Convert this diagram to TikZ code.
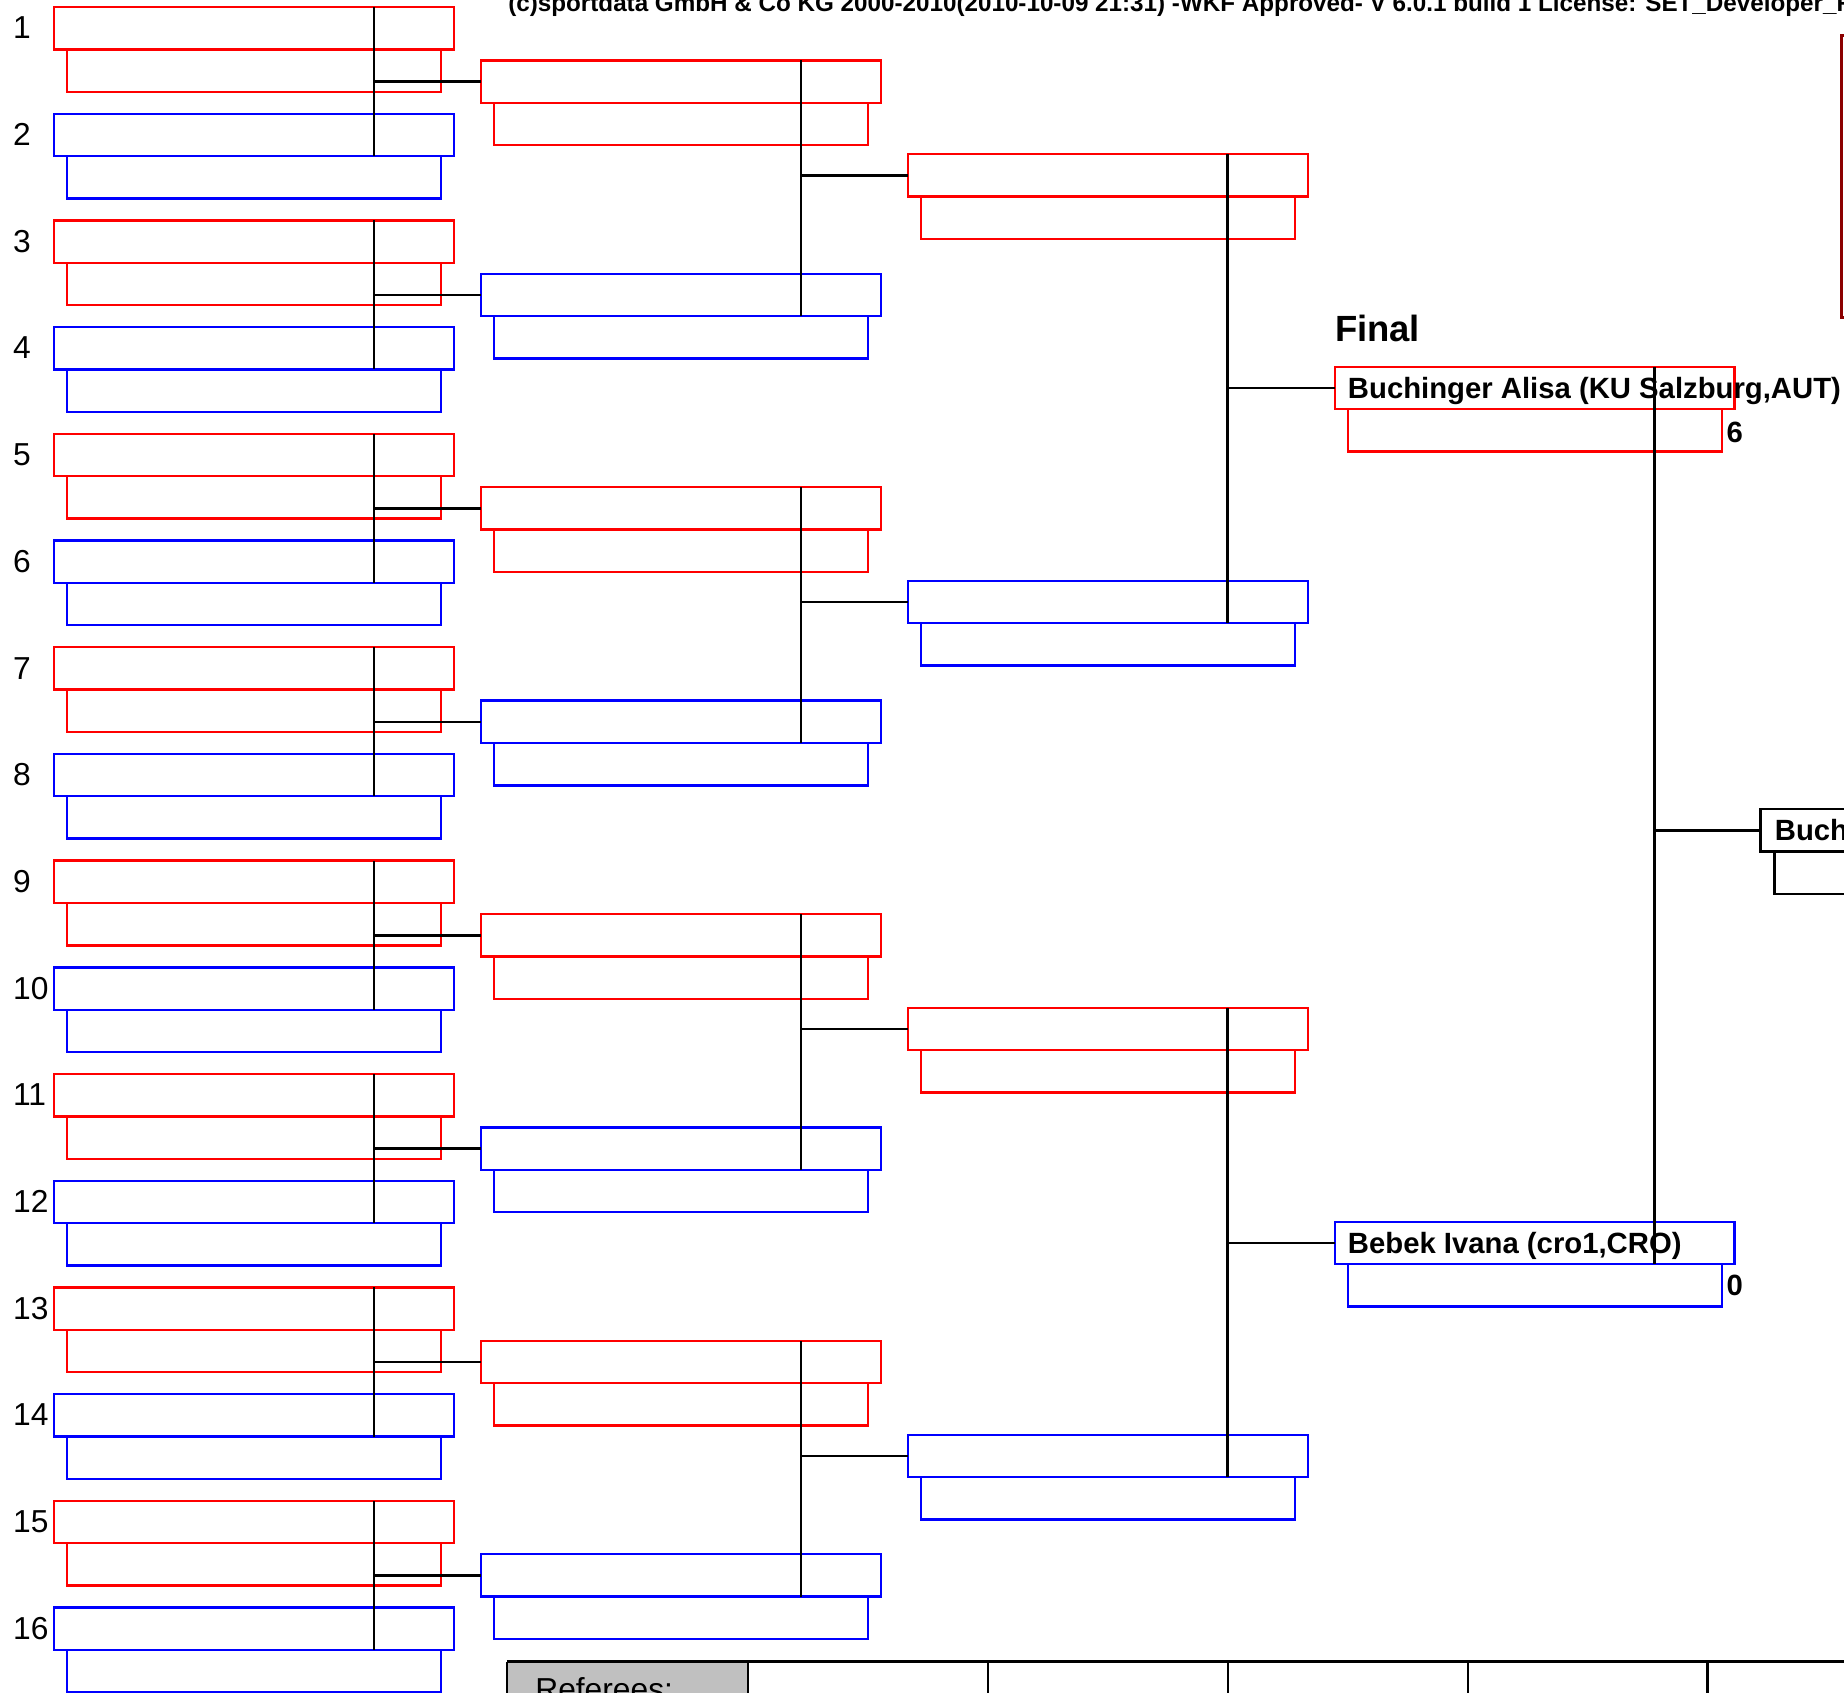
\documentclass[tikz,border=0pt]{standalone}
\usepackage{fontspec}
\setmainfont{Liberation Sans}
\usepackage{tikz}
\definecolor{silver}{HTML}{C0C0C0}
\definecolor{darkred}{HTML}{8B0000}
\colorlet{corner1}{red}
\colorlet{corner0}{blue}
\tikzset{
	slot/.style={draw, rectangle, anchor=north west, inner sep=0pt, outer sep=0pt, minimum width=340pt, minimum height=36pt, line width=2pt},
	subslot/.style={slot, minimum width=318pt},
	wire/.style={line width=2.2pt},
	seed/.style={anchor=base west, inner sep=0pt, font=\fontsize{27}{32}\selectfont},
	fighter/.style={anchor=base west, inner sep=0pt, font=\fontsize{24.9}{30}\bfseries\selectfont}
}

\begin{document}
\begin{tikzpicture}[x=1pt,y=-1pt]
					\useasboundingbox (0,0) rectangle (1568,1439);
					\clip (0,0) rectangle (1568,1439);
					% Header line
					\node[anchor=base west, inner sep=0pt, font=\fontsize{20.6}{24}\bfseries\selectfont] (head) at (432,10) {(c)sportdata GmbH \& Co KG 2000-2010(2010-10-09 21:31) -WKF Approved- V 6.0.1 build 1 License: SET\_Developer\_RB};
					% Round 1 slots
					\foreach \i in {1,...,16}{
						\pgfmathsetmacro\t{6+90.73*(\i-1)}
						\pgfmathtruncatemacro\c{mod(\i,2)}
						\node[slot, draw=corner\c] (a\i) at (46,\t) {};
						\node[subslot, draw=corner\c] (as\i) at (57,\t+36) {};
						\node[seed] (n\i) at (11,\t+27) {\i};}
					% Round 2 slots
					\foreach \m in {1,...,8}{
						\pgfmathsetmacro\t{51.4+181.46*(\m-1)}
						\pgfmathtruncatemacro\c{mod(\m,2)}
						\node[slot, draw=corner\c] (b\m) at (409,\t) {};
						\node[subslot, draw=corner\c] (bs\m) at (420,\t+36) {};}
					% Round 3 slots
					\foreach \p in {1,...,4}{
						\pgfmathsetmacro\t{131+363*(\p-1)}
						\pgfmathtruncatemacro\c{mod(\p,2)}
						\node[slot, draw=corner\c] (c\p) at (772,\t) {};
						\node[subslot, draw=corner\c] (cs\p) at (783,\t+36) {};}
					% Final
					\node[anchor=base west, inner sep=0pt, font=\fontsize{31}{36}\bfseries\selectfont] (final) at (1135,290) {Final};
					\node[slot, draw=red] (d1) at (1135,312) {};
					\node[subslot, draw=red] (ds1) at (1146,348) {};
					\node[slot, draw=blue] (d2) at (1135,1039) {};
					\node[subslot, draw=blue] (ds2) at (1146,1075) {};
					\node[fighter] (aka) at (1146,339) {Buchinger Alisa (KU Salzburg,AUT)};
					\node[fighter] (ao) at (1146,1066) {Bebek Ivana (cro1,CRO)};
					\node[fighter] (akapt) at (1468,376) {6};
					\node[fighter] (aopt) at (1468,1102) {0};
					% Winner
					\node[slot, draw=black] (w) at (1497,688) {};
					\node[subslot, draw=black] (ws) at (1509,724) {};
					\node[fighter] (champ) at (1509,715) {Buchinger Alisa (KU Salzburg,AUT)};
					% Brackets
					\foreach \m in {1,...,8}{
						\pgfmathtruncatemacro\j{2*\m-1}
						\pgfmathtruncatemacro\k{2*\m}
						\coordinate (ja\m) at ([xshift=272pt]a\j.north west);
						\draw[wire] (ja\m) -- (ja\m |- a\k.south);
						\draw[wire] (b\m.west) -- (b\m.west -| ja\m);}
					\foreach \p in {1,...,4}{
						\pgfmathtruncatemacro\j{2*\p-1}
						\pgfmathtruncatemacro\k{2*\p}
						\coordinate (jb\p) at ([xshift=272pt]b\j.north west);
						\draw[wire] (jb\p) -- (jb\p |- b\k.south);
						\draw[wire] (c\p.west) -- (c\p.west -| jb\p);}
					\coordinate (jc1) at ([xshift=272pt]c1.north west);
					\coordinate (jc2) at ([xshift=272pt]c3.north west);
					\draw[wire] (jc1) -- (jc1 |- c2.south);
					\draw[wire] (d1.west) -- (d1.west -| jc1);
					\draw[wire] (jc2) -- (jc2 |- c4.south);
					\draw[wire] (d2.west) -- (d2.west -| jc2);
					\coordinate (jd) at ([xshift=272pt]d1.north west);
					\draw[wire] (jd) -- (jd |- d2.south);
					\draw[wire] (w.west) -- (w.west -| jd);
					% Edge of the next box
					\draw[darkred, line width=3pt] (1566,30) rectangle (1700,270);
					% Referees table
					\fill[silver] (431,1413) rectangle (636,1450);
					\foreach \x in {431,636,840,1044,1248,1452} \draw[line width=2pt] (\x,1413) -- (\x,1450);
					\draw[line width=3pt] (431,1413) -- (1580,1413);
					\node[seed] (ref) at (455,1446) {Referees:};
\end{tikzpicture}
\end{document}
